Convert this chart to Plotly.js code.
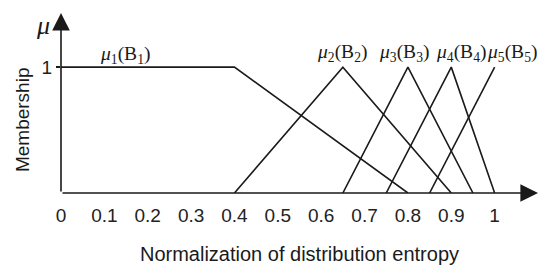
<!DOCTYPE html>
<html>
<head>
<meta charset="utf-8">
<script src="https://cdn.plot.ly/plotly-3.0.1.min.js"></script>
<style>
  html, body { margin: 0; padding: 0; background: #fff; }
  #chart { width: 550px; height: 271px; }
</style>
</head>
<body>
<div id="chart"></div>
<script>
// membership functions (x = normalized entropy, y = membership)
const mu1X = [0, 0.4, 0.8];
const mu1Y = [1, 1, 0];
const mu2X = [0.4, 0.65, 0.9];
const mu2Y = [0, 1, 0];
const mu3X = [0.65, 0.8, 0.95];
const mu3Y = [0, 1, 0];
const mu4X = [0.75, 0.9, 1.0];
const mu4Y = [0, 1, 0];
const mu5X = [0.85, 1.0];
const mu5Y = [0, 1];

const tickVals = [0, 0.1, 0.2, 0.3, 0.4, 0.5, 0.6, 0.7, 0.8, 0.9, 1];
const tickText = ['0', '0.1', '0.2', '0.3', '0.4', '0.5', '0.6', '0.7', '0.8', '0.9', '1'];

const labelText = ['1', '2', '3', '4', '5'];
const labelX = [0.148, 0.648, 0.79, 0.922, 1.04];
const labelY = [1.1, 1.11, 1.11, 1.11, 1.11];

const lineStyle = { color: '#1a1a1a', width: 1.6 };
const serif = 'Liberation Serif, Times New Roman, serif';
const sans = 'Liberation Sans, Arial, sans-serif';

const traces = [
  [mu1X, mu1Y], [mu2X, mu2Y], [mu3X, mu3Y], [mu4X, mu4Y], [mu5X, mu5Y]
].map(([x, y]) => ({
  x: x, y: y, type: 'scatter', mode: 'lines', line: lineStyle,
  hoverinfo: 'skip', showlegend: false
}));

const annotations = labelText.map((n, i) => ({
  x: labelX[i], y: labelY[i], xref: 'x', yref: 'y',
  xanchor: 'center', yanchor: 'middle',
  text: '<i>μ</i><sub>' + n + '</sub>(B<sub>' + n + '</sub>)',
  showarrow: false, font: { family: serif, size: 19.5, color: '#1a1a1a' }
}));

// axis arrows
annotations.push({
  x: 1.1, y: 0, ax: 0, ay: 0, xref: 'x', yref: 'y', axref: 'x', ayref: 'y',
  text: '', showarrow: true, arrowhead: 2, arrowsize: 2.2, arrowwidth: 1.6,
  arrowcolor: '#1a1a1a', standoff: 0
});
annotations.push({
  x: 0, y: 1.43, ax: 0, ay: 0, xref: 'x', yref: 'y', axref: 'x', ayref: 'y',
  text: '', showarrow: true, arrowhead: 2, arrowsize: 2.2, arrowwidth: 1.6,
  arrowcolor: '#1a1a1a', standoff: 0
});
// mu symbol by the y arrow
annotations.push({
  x: -0.038, y: 0.93, xref: 'paper', yref: 'paper', xanchor: 'center', yanchor: 'middle',
  text: '<i>μ</i>', showarrow: false,
  font: { family: serif, size: 26, color: '#1a1a1a' }
});
// y title
annotations.push({
  x: -0.082, y: 0.41, xref: 'paper', yref: 'paper', xanchor: 'center', yanchor: 'middle',
  text: 'Membership', textangle: -90, showarrow: false,
  font: { family: sans, size: 19, color: '#1a1a1a' }
});

const layout = {
  width: 550, height: 271,
  margin: { l: 61, r: 12, t: 13, b: 78 },
  paper_bgcolor: '#fff', plot_bgcolor: '#fff',
  xaxis: {
    range: [0, 1.1], showgrid: false, zeroline: false, showline: false,
    tickvals: tickVals, ticktext: tickText,
    ticks: 'outside', ticklen: 5, tickcolor: 'rgba(0,0,0,0)',
    tickfont: { family: sans, size: 19, color: '#222' },
    title: { text: 'Normalization of distribution entropy', standoff: 22,
      font: { family: sans, size: 20, color: '#1a1a1a' } }
  },
  yaxis: {
    range: [0, 1.43], showgrid: false, zeroline: false, showline: false,
    tickvals: [1], ticktext: ['1'],
    ticks: 'outside', ticklen: 4, tickcolor: '#1a1a1a', tickwidth: 1.4,
    tickfont: { family: sans, size: 19, color: '#222' }
  },
  annotations: annotations,
  showlegend: false
};

Plotly.newPlot('chart', traces, layout, { staticPlot: true, displayModeBar: false });
</script>
</body>
</html>
